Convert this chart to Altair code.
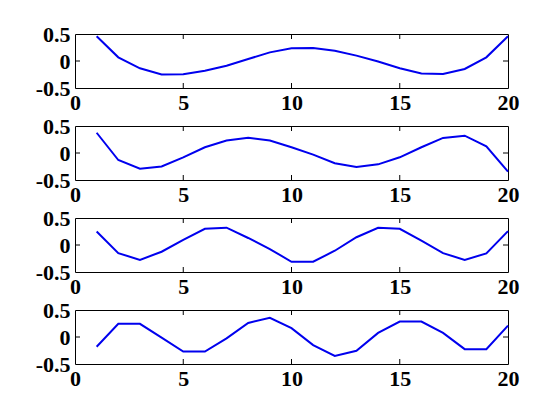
import altair as alt
import pandas as pd

x_vals = list(range(1, 21))

s1 = [0.457, 0.068, -0.135, -0.25, -0.247, -0.18, -0.087, 0.037, 0.16, 0.235,
      0.24, 0.19, 0.10, -0.01, -0.135, -0.23, -0.24, -0.148, 0.068, 0.457]
s2 = [0.375, -0.13, -0.29, -0.25, -0.08, 0.107, 0.23, 0.28, 0.23, 0.107,
      -0.03, -0.19, -0.26, -0.21, -0.08, 0.107, 0.28, 0.32, 0.125, -0.345]
s3 = [0.25, -0.15, -0.275, -0.125, 0.094, 0.30, 0.32, 0.13, -0.075, -0.31,
      -0.31, -0.106, 0.144, 0.32, 0.30, 0.08, -0.15, -0.275, -0.156, 0.256]
s4 = [-0.18, 0.244, 0.244, -0.01, -0.27, -0.27, -0.025, 0.26, 0.356, 0.163,
      -0.15, -0.35, -0.256, 0.075, 0.287, 0.287, 0.075, -0.225, -0.225, 0.212]

series = [s1, s2, s3, s4]
x_ticks = [0, 5, 10, 15, 20]
y_ticks = [-0.5, 0, 0.5]
inner_x_ticks = [5, 10, 15]
inner_y_ticks = [0]

W, H = 433, 54
TL = 5

xscale = alt.Scale(domain=[0, 20], nice=False, zero=False)
yscale = alt.Scale(domain=[-0.5, 0.5], nice=False, zero=False)

X = alt.X("x:Q", scale=xscale,
          axis=alt.Axis(values=x_ticks, title=None, labelFlush=False,
                        labelOverlap=False, labelPadding=4))
Y = alt.Y("y:Q", scale=yscale,
          axis=alt.Axis(values=y_ticks, title=None, labelFlush=False,
                        labelOverlap=False, labelPadding=5,
                        labelExpr="datum.value == 0 ? '0' : (datum.value < 0 ? '-' : '') + format(abs(datum.value), '.1f')"))

panels = []
for s in series:
    df = pd.DataFrame({"x": x_vals, "y": s})
    line = alt.Chart(df).mark_line(color="#0000ee", strokeWidth=2).encode(x=X, y=Y)
    xt = pd.DataFrame({"x": inner_x_ticks})
    yt = pd.DataFrame({"y": inner_y_ticks})
    xt_top = alt.Chart(xt).mark_rule(color="black", strokeWidth=1).encode(
        x=X, y=alt.value(0), y2=alt.value(TL))
    xt_bot = alt.Chart(xt).mark_rule(color="black", strokeWidth=1).encode(
        x=X, y=alt.value(H - TL), y2=alt.value(H))
    yt_l = alt.Chart(yt).mark_rule(color="black", strokeWidth=1).encode(
        y=Y, x=alt.value(0), x2=alt.value(TL))
    yt_r = alt.Chart(yt).mark_rule(color="black", strokeWidth=1).encode(
        y=Y, x=alt.value(W - TL), x2=alt.value(W))
    panels.append(alt.layer(line, xt_top, xt_bot, yt_l, yt_r).properties(width=W, height=H))

chart = alt.vconcat(*panels, spacing=38, bounds="flush").properties(
    padding={"left": 26, "top": 14, "right": 5, "bottom": 5},
    background="white",
).configure_view(
    stroke="black", strokeWidth=1, fill="white"
).configure_axis(
    labelFont="Times New Roman", labelFontWeight="bold",
    labelFontSize=22, labelColor="black", ticks=False, domain=False, grid=False,
)

chart.save("out.html", embed_options={"renderer": "svg", "actions": False})
